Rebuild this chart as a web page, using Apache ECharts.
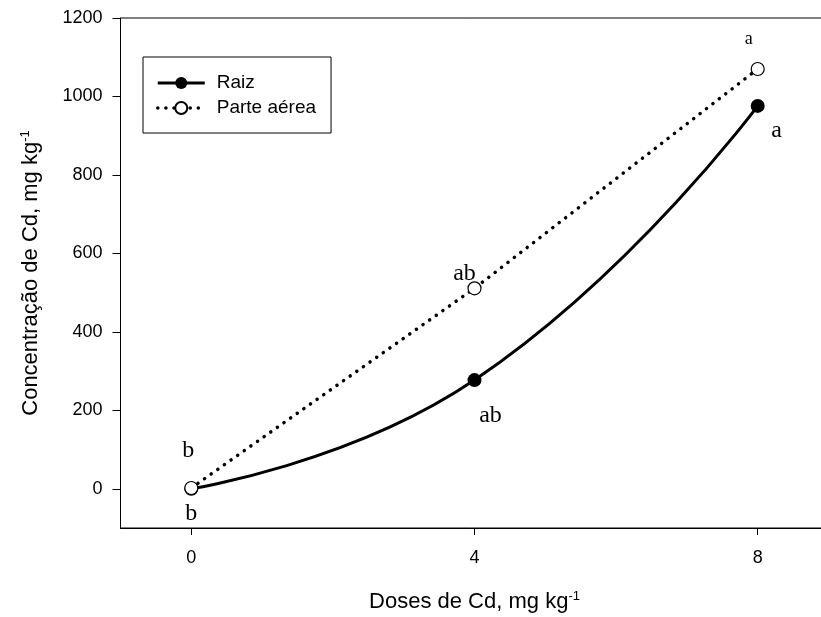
<!DOCTYPE html>
<html>
<head>
<meta charset="utf-8">
<script src="https://cdn.jsdelivr.net/npm/echarts@6/dist/echarts.min.js"></script>
<style>
  html, body { margin: 0; padding: 0; background: #fff; }
  #chart { width: 821px; height: 617px; }
</style>
</head>
<body>
<div id="chart"></div>
<script>
// doses de Cd (mg kg-1)
const doses = [0, 4, 8]
// concentração na raiz
const raiz = [0, 277, 976]
// concentração na parte aérea
const parteAerea = [2, 511, 1070]
// letras do teste de médias
const raizLetras = ['b', 'ab', 'a']
const aereaLetras = ['b', 'ab', 'a']
// ticks
const xTicks = [0, 4, 8]
const yTicks = [0, 200, 400, 600, 800, 1000, 1200]

// deslocamento das letras (px) em relação ao ponto
const raizOffsets = [[0, 25], [16, 36], [19, 25]]
const aereaOffsets = [[-3, -37], [-10, -15], [-9, -30]]
const aereaFont = [24, 24, 18]

const serif = 'Liberation Serif'
const sans = 'Liberation Sans'

const raizData = doses.map((x, i) => ({
  value: [x, raiz[i]],
  label: { show: true, formatter: raizLetras[i], position: 'inside', offset: raizOffsets[i],
    fontFamily: serif, fontSize: 24, color: '#000' }
}))
const aereaData = doses.map((x, i) => ({
  value: [x, parteAerea[i]],
  label: { show: true, formatter: aereaLetras[i], position: 'inside', offset: aereaOffsets[i],
    fontFamily: serif, fontSize: aereaFont[i], color: '#000' }
}))

const raizLine = { color: '#000', width: 3 }
const aereaLine = { color: '#000', width: 3.5, type: [0.1, 8], cap: 'round' }

const supStyle = { fontFamily: sans, fontSize: 13, color: '#000', verticalAlign: 'top', padding: [0, 0, 11, 0] }

let myChart = echarts.init(document.getElementById('chart'))

let option = {
  animation: false,
  backgroundColor: '#fff',
  grid: {
    left: 120.5,
    top: 18,
    right: -7.5,
    bottom: 89,
    outerBoundsMode: 'none',
    show: true,
    borderColor: '#000',
    borderWidth: 1
  },
  legend: {
    left: 143,
    top: 57,
    orient: 'vertical',
    padding: [16, 15, 15, 13],
    borderColor: '#000',
    borderWidth: 1,
    itemWidth: 47,
    itemHeight: 15,
    itemGap: 5,
    textStyle: { fontFamily: sans, fontSize: 19, lineHeight: 20, color: '#000', padding: [0, 0, 0, 7] },
    data: [
      { name: 'Raiz', lineStyle: raizLine },
      { name: 'Parte aérea', lineStyle: aereaLine }
    ]
  },
  xAxis: {
    type: 'value',
    min: -1,
    max: 9,
    name: 'Doses de Cd, mg kg{sup|-1}',
    nameLocation: 'middle',
    nameGap: 62,
    nameTextStyle: {
      fontFamily: sans, fontSize: 22, color: '#000',
      rich: { sup: supStyle }
    },
    axisLine: { onZero: false, lineStyle: { color: '#000', width: 1 } },
    axisTick: { show: true, length: 7, customValues: xTicks, lineStyle: { color: '#000' } },
    axisLabel: { customValues: xTicks, margin: 21, fontFamily: sans, fontSize: 18, color: '#000' },
    splitLine: { show: false }
  },
  yAxis: {
    type: 'value',
    min: -100,
    max: 1200,
    name: 'Concentração de Cd, mg kg{sup|-1}',
    nameLocation: 'middle',
    nameGap: 78,
    nameTextStyle: {
      fontFamily: sans, fontSize: 22, color: '#000',
      rich: { sup: supStyle }
    },
    axisLine: { show: true, onZero: false, lineStyle: { color: '#000', width: 1 } },
    axisTick: { show: true, length: 8, customValues: yTicks, lineStyle: { color: '#000' } },
    axisLabel: { customValues: yTicks, margin: 18, fontFamily: sans, fontSize: 18, color: '#000',
      formatter: v => String(v) },
    splitLine: { show: false }
  },
  series: [
    {
      name: 'Raiz',
      type: 'line',
      data: raizData,
      smooth: 0.5,
      symbol: 'circle',
      symbolSize: 14,
      itemStyle: { color: '#000' },
      lineStyle: raizLine,
      z: 2
    },
    {
      name: 'Parte aérea',
      type: 'line',
      data: aereaData,
      symbol: 'circle',
      symbolSize: 13,
      itemStyle: { color: '#fff', borderColor: '#000', borderWidth: 1.2 },
      lineStyle: aereaLine,
      z: 3
    }
  ]
}

myChart.setOption(option)
</script>
</body>
</html>
